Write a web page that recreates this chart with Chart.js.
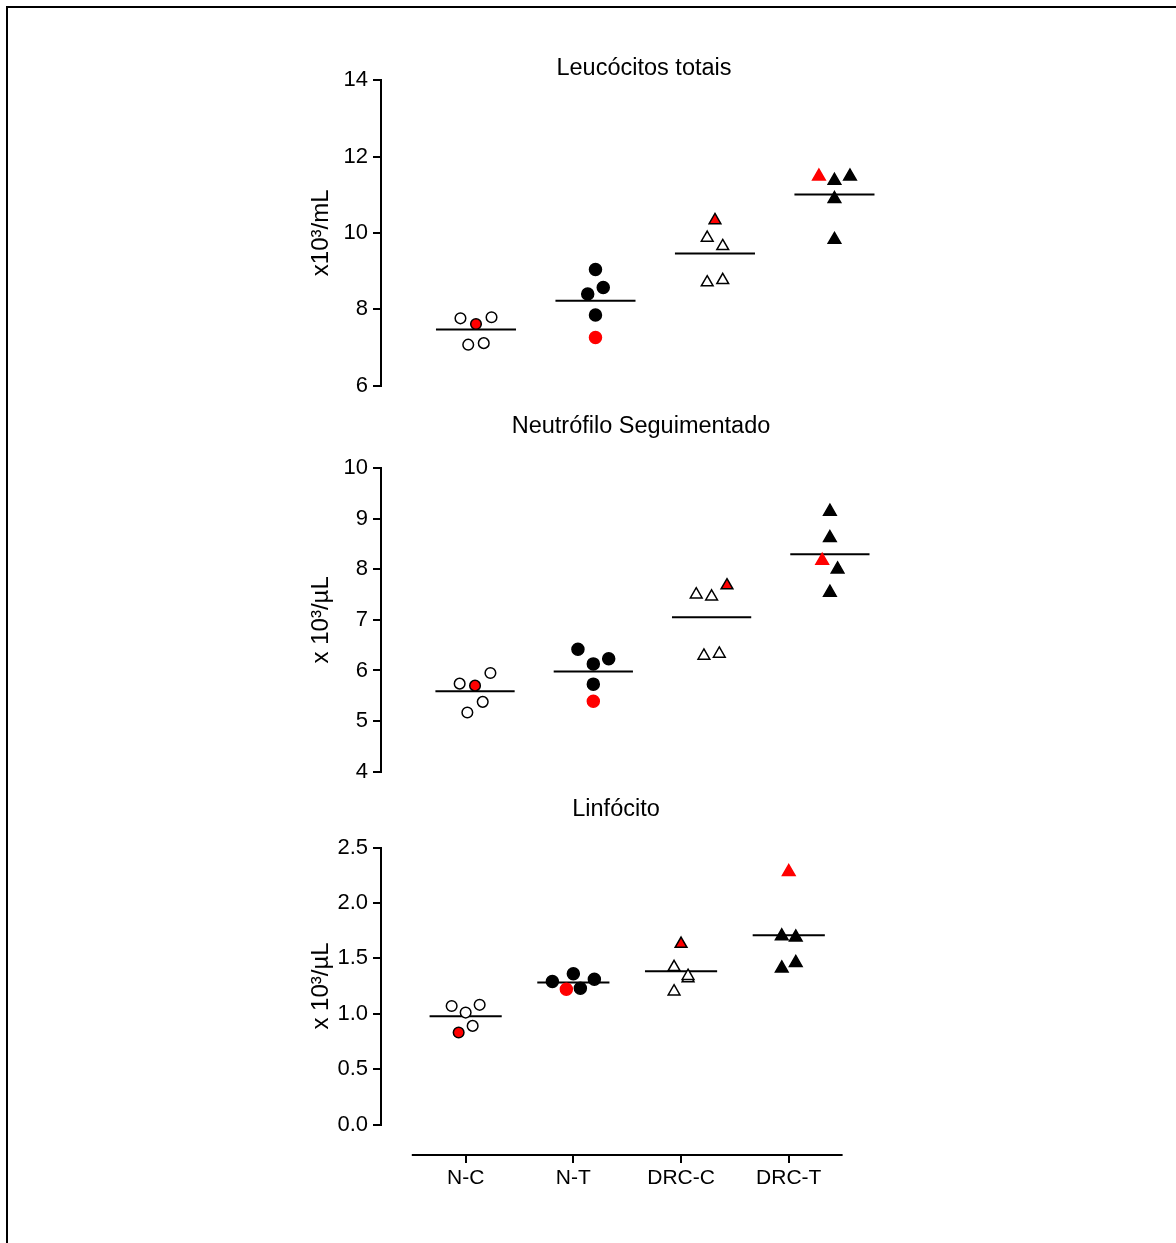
<!DOCTYPE html>
<html>
<head>
<meta charset="utf-8">
<script src="https://cdn.jsdelivr.net/npm/chart.js@4"></script>
<style>
html, body { margin: 0; padding: 0; background: #fff; overflow: hidden; }
body { width: 1176px; height: 1243px; position: relative; }
.frame { position: absolute; left: 6px; top: 6px; width: 1300px; height: 1400px; border-top: 2px solid #000; border-left: 2px solid #000; }
canvas { position: absolute; left: 0; }
</style>
</head>
<body>
<div class="frame"></div>
<canvas id="leuco" width="1176" height="380" style="top:30px"></canvas>
<canvas id="neutro" width="1176" height="390" style="top:400px"></canvas>
<canvas id="linfo" width="1176" height="420" style="top:790px"></canvas>
<script>
const groups = ["N-C", "N-T", "DRC-C", "DRC-T"];

// first value of each group is the animal drawn in red
const leucocitos = [
    [7.61, 7.76, 7.79, 7.07, 7.11],
    [7.26, 9.04, 8.40, 8.57, 7.85],
    [10.33, 9.87, 9.65, 8.70, 8.76],
    [11.48, 11.37, 11.48, 10.89, 9.82],
];
const neutrofilos = [
    [5.70, 5.74, 5.95, 5.38, 5.17],
    [5.39, 6.42, 6.13, 6.23, 5.73],
    [7.68, 7.50, 7.46, 6.29, 6.33],
    [8.17, 9.14, 8.62, 8.00, 7.54],
];
const linfocitos = [
    [0.83, 1.07, 1.08, 1.01, 0.89],
    [1.22, 1.29, 1.36, 1.31, 1.23],
    [1.63, 1.42, 1.32, 1.34, 1.20],
    [2.28, 1.70, 1.69, 1.41, 1.46],
];

// column of each dot inside its group (left -, right +)
const leucocitosCols = [
    [0, -2, 2, -1, 1],
    [0, 0, -1, 1, 0],
    [0, -1, 1, -1, 1],
    [-2, 0, 2, 0, 0],
];
const neutrofilosCols = [
    [0, -2, 2, 1, -1],
    [0, -2, 0, 2, 0],
    [2, -2, 0, -1, 1],
    [-1, 0, 0, 1, 0],
];
const linfocitosCols = [
    [-1, -2, 2, 0, 1],
    [-1, -3, 0, 3, 1],
    [0, -1, 1, 1, -1],
    [0, -1, 1, -1, 1],
];

const leucocitosTicks = [6, 8, 10, 12, 14];
const neutrofilosTicks = [4, 5, 6, 7, 8, 9, 10];
const linfocitosTicks = [0, 0.5, 1, 1.5, 2, 2.5];

Chart.defaults.font.family = 'Arial, "Liberation Sans", sans-serif';
Chart.defaults.color = "#000";

const SLOT = 0.065;
const HALF_LINE = 0.335;
const RED = "#ff0000";

const groupStyle = [
    { pointStyle: "circle", fill: "#fff", radius: 5.3 },
    { pointStyle: "circle", fill: "#000", radius: 6 },
    { pointStyle: "triangle", fill: "#fff", radius: 6.8 },
    { pointStyle: "triangle", fill: "#000", radius: 7.3 },
];

const mean = (arr) => arr.reduce((s, v) => s + v, 0) / arr.length;

// x axis line of the bottom panel only spans the groups, not the whole area
const xAxisLine = {
    id: "xAxisLine",
    afterDraw(chart) {
        const { ctx, scales } = chart;
        const y = scales.y.getPixelForValue(chart.options.scales.x.position.y);
        ctx.save();
        ctx.strokeStyle = "#000";
        ctx.lineWidth = 2;
        ctx.beginPath();
        ctx.moveTo(scales.x.getPixelForValue(-0.5), y);
        ctx.lineTo(scales.x.getPixelForValue(3.5), y);
        ctx.stroke();
        ctx.restore();
    },
};

const makeChart = (id, cfg) => {
    const datasets = [];
    cfg.values.forEach((vals, g) => {
        const st = groupStyle[g];
        datasets.push({
            type: "scatter",
            data: vals.map((v, i) => ({ x: g + cfg.cols[g][i] * SLOT, y: v })),
            pointStyle: st.pointStyle,
            pointRadius: st.radius,
            pointBorderWidth: 1.5,
            pointBackgroundColor: (c) => (c.dataIndex === 0 ? RED : st.fill),
            pointBorderColor: (c) => (c.dataIndex === 0 && st.fill === "#000" ? RED : "#000"),
            order: 0,
        });
        const m = mean(vals);
        datasets.push({
            type: "line",
            data: [{ x: g - HALF_LINE, y: m }, { x: g + HALF_LINE, y: m }],
            borderColor: "#000",
            borderWidth: 2,
            pointRadius: 0,
            order: 1,
        });
    });

    const xScale = {
        type: "linear",
        min: cfg.xMin,
        max: cfg.xMax,
        display: false,
    };
    if (cfg.showX) {
        Object.assign(xScale, {
            display: true,
            position: { y: cfg.xAxisAt },
            afterBuildTicks: (s) => { s.ticks = groups.map((_, i) => ({ value: i })); },
            border: { display: false },
            grid: { drawOnChartArea: false, tickLength: 8, color: "#000", lineWidth: 2 },
            ticks: {
                font: { size: 21 },
                padding: 2.4,
                autoSkip: false,
                maxRotation: 0,
                callback: (v) => groups[v],
            },
        });
    }

    return new Chart(document.getElementById(id), {
        type: "scatter",
        data: { datasets },
        plugins: cfg.showX ? [xAxisLine] : [],
        options: {
            responsive: false,
            animation: false,
            events: [],
            layout: { padding: cfg.padding },
            plugins: {
                legend: { display: false },
                tooltip: { enabled: false },
                title: {
                    display: true,
                    text: cfg.title,
                    color: "#000",
                    font: { size: 23.5, weight: "normal", lineHeight: 1 },
                    padding: cfg.titlePad,
                },
            },
            scales: {
                x: xScale,
                y: {
                    min: cfg.ticks[0],
                    max: cfg.ticks[cfg.ticks.length - 1],
                    afterFit: (s) => { s.width = 81; },
                    afterBuildTicks: (s) => { s.ticks = cfg.ticks.map((v) => ({ value: v })); },
                    border: { color: "#000", width: 2 },
                    grid: { drawOnChartArea: false, tickLength: 8, color: "#000", lineWidth: 2 },
                    ticks: {
                        font: { size: 22 },
                        padding: 5,
                        callback: cfg.fmt || ((v) => v),
                    },
                    title: {
                        display: true,
                        text: cfg.yTitle,
                        color: "#000",
                        font: { size: 24 },
                        padding: { top: 6.5, bottom: 0 },
                    },
                },
            },
        },
    });
};

makeChart("leuco", {
    title: "Leucócitos totais",
    yTitle: "x10³/mL",
    values: leucocitos,
    cols: leucocitosCols,
    ticks: leucocitosTicks,
    padding: { left: 300, right: 188, top: 0, bottom: 24.5 },
    titlePad: { top: 26.7, bottom: 0 },
    xMin: -0.795,
    xMax: 4.285,
});

makeChart("neutro", {
    title: "Neutrófilo Seguimentado",
    yTitle: "x 10³/µL",
    values: neutrofilos,
    cols: neutrofilosCols,
    ticks: neutrofilosTicks,
    padding: { left: 300, right: 194, top: 0, bottom: 18.3 },
    titlePad: { top: 15.25, bottom: 29.25 },
    xMin: -0.795,
    xMax: 4.286,
});

makeChart("linfo", {
    title: "Linfócito",
    yTitle: "x 10³/µL",
    values: linfocitos,
    cols: linfocitosCols,
    ticks: linfocitosTicks,
    fmt: (v) => v.toFixed(1),
    padding: { left: 300, right: 244, top: 0, bottom: 85.5 },
    titlePad: { top: 8.25, bottom: 25.75 },
    xMin: -0.786,
    xMax: 4.33,
    showX: true,
    xAxisAt: -0.275,
});
</script>
</body>
</html>
